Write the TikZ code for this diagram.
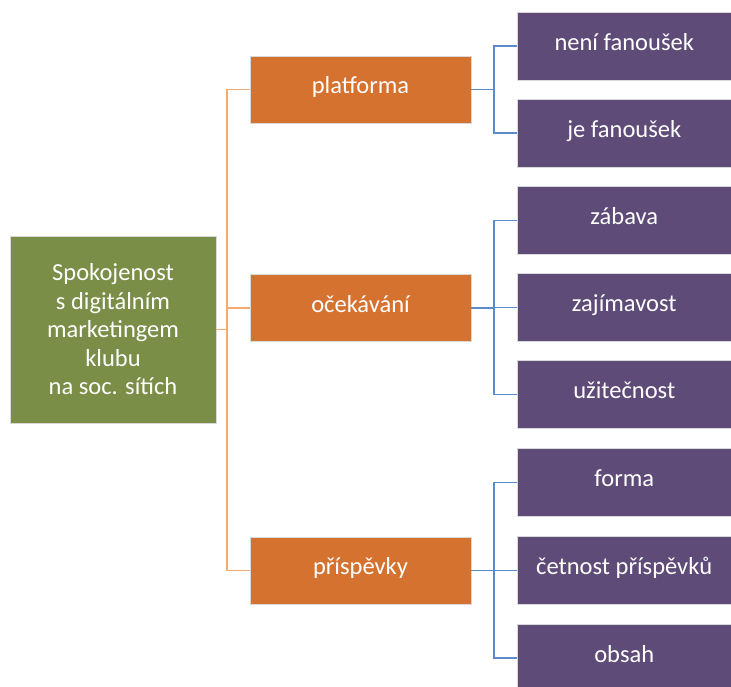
\documentclass[tikz,border=0pt]{standalone}
\usepackage{fontspec}
\setmainfont{Carlito}
\definecolor{rootgreen}{HTML}{7A8E47}
\definecolor{midorange}{HTML}{D57230}
\definecolor{leafpurple}{HTML}{5E4B78}
\definecolor{orangeline}{HTML}{F5AB6E}
\definecolor{blueline}{HTML}{5C8BCB}
\begin{document}
\begin{tikzpicture}[x=1pt,y=-1pt,
  basebox/.style={draw=white!85!black, line width=0.6pt, text=white, inner sep=0pt,
    font=\fontsize{24.5}{28.5}\selectfont},
  rootbox/.style={basebox, fill=rootgreen, minimum width=206pt, minimum height=187pt, align=center},
  midbox/.style={basebox, fill=midorange, minimum width=221pt, minimum height=67pt,
    text height=16pt, text depth=8pt},
  leafbox/.style={basebox, fill=leafpurple, minimum width=213.5pt, minimum height=68pt,
    text height=16pt, text depth=8pt},
  oline/.style={draw=orangeline, line width=1.5pt},
  bline/.style={draw=blueline, line width=1.5pt}]
\clip (0,0) rectangle (731,686);
\fill[white] (0,0) rectangle (731,686);

\node[rootbox] (root) at (113,329.5) {Spokojenost\\s digitálním\\marketingem\\klubu\\na soc. sítích};

\node[midbox] (o1) at (360.5,89.5) {platforma};
\node[midbox] (o2) at (360.5,308) {očekávání};
\node[midbox] (o3) at (360.5,570.5) {příspěvky};

\node[leafbox] (p1) at (624.25,46) {není fanoušek};
\node[leafbox] (p2) at (624.25,133) {je fanoušek};
\node[leafbox] (p3) at (624.25,220.5) {zábava};
\node[leafbox] (p4) at (624.25,307.5) {zajímavost};
\node[leafbox] (p5) at (624.25,394.5) {užitečnost};
\node[leafbox] (p6) at (624.25,482.5) {forma};
\node[leafbox] (p7) at (624.25,570.5) {četnost příspěvků};
\node[leafbox] (p8) at (624.25,658) {obsah};

% orange tree
\coordinate (tr) at (227,0);
\draw[oline] (root.east) -- (root.east -| tr);
\draw[oline] (o1.west) -- (o1.west -| tr) -- (o3.west -| tr) -- (o3.west);
\draw[oline] (o2.west) -- (o2.west -| tr);

% blue trees
\coordinate (br) at (494,0);
\draw[bline] (o1.east) -- (o1.east -| br);
\draw[bline] (p1.west) -- (p1.west -| br) -- (p2.west -| br) -- (p2.west);
\draw[bline] (o2.east) -- (o2.east -| br);
\draw[bline] (p3.west) -- (p3.west -| br) -- (p5.west -| br) -- (p5.west);
\draw[bline] (p4.west) -- (p4.west -| br);
\draw[bline] (o3.east) -- (o3.east -| br);
\draw[bline] (p6.west) -- (p6.west -| br) -- (p8.west -| br) -- (p8.west);
\draw[bline] (p7.west) -- (p7.west -| br);
\end{tikzpicture}
\end{document}
